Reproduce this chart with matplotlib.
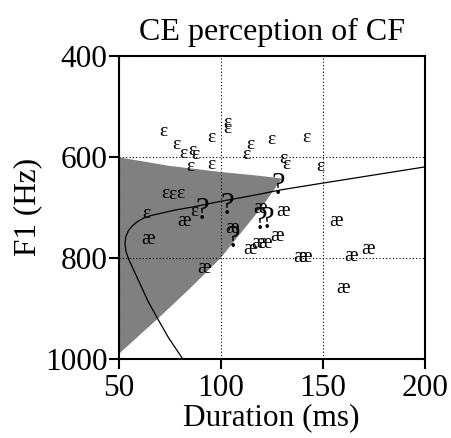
#!/usr/bin/env python3
# coding: UTF-8

import matplotlib
matplotlib.use("Agg")
import matplotlib.pyplot as plt

# Data
# vowel tokens: (duration ms, F1 Hz)
eps_dur = [72, 78.5, 81.8, 87.8, 86, 85, 95.6, 95.6, 103.5, 103.5, 114.4, 112.8,
           124.7, 142.1, 130.7, 132.3, 148.6, 72.8, 76.1, 80.2, 63.5, 87]
eps_f1 = [550, 576, 593, 596, 588, 619, 562, 615, 532, 545, 576, 596,
          565, 562, 603, 616, 619, 672, 675, 672, 713, 708]

ae_dur = [64.3, 82.3, 92.1, 105.4, 119.3, 130.7, 114.4, 118.5, 121.7, 127.4,
          138.9, 141.3, 156.5, 164.1, 172.3, 160]
ae_f1 = [764, 728, 820, 741, 702, 708, 784, 772, 772, 758,
         800, 800, 727, 797, 784, 860]

q_dur = [128.3, 90.8, 103, 106.3, 119.3, 122.6]
q_f1 = [659, 708, 698, 764, 728, 725]

# shaded region boundary
shade_dur = [50, 75, 100, 120, 130, 120, 110, 100, 85, 70, 50]
shade_f1 = [601, 618, 630, 638, 643, 700, 750, 800, 860, 917, 990]

# boundary curve
curve_dur = [81.5, 74.5, 68.7, 64.2, 60.5, 57.5, 55.0, 53.6, 53.1, 53.5, 54.8, 56.8,
             59.3, 62.3, 66, 70.3, 78, 86.6, 100, 115, 130, 150, 175, 200]
curve_f1 = [1000, 958, 917, 884, 851, 825, 803, 787, 772, 758, 746, 736,
            728, 721, 716, 712, 705, 699, 688, 677, 665, 652, 636, 620]

serif = ["Liberation Serif", "DejaVu Serif"]
plt.rcParams["font.family"] = serif

fig = plt.figure(figsize=(4.51, 4.38), dpi=100)
ax = fig.add_axes([0.263, 0.180, 0.679, 0.693])

ax.fill(shade_dur, shade_f1, color="#808080", lw=0, zorder=1)
ax.plot(curve_dur, curve_f1, color="black", lw=0.9, zorder=3)

for x, y in zip(eps_dur, eps_f1):
    ax.text(x, y, "\u025b", ha="center", va="center", fontsize=14, zorder=4)
for x, y in zip(ae_dur, ae_f1):
    ax.text(x, y, "\u00e6", ha="center", va="center", fontsize=14.5, zorder=4)
for x, y in zip(q_dur, q_f1):
    ax.text(x, y, "?", ha="center", va="center", fontsize=22, zorder=4)

ax.set_xlim(50, 200)
ax.set_ylim(1000, 400)
ax.set_xticks([50, 100, 150, 200])
ax.set_yticks([400, 600, 800, 1000])
ax.grid(True, color="black", ls=(0, (1, 2)), lw=0.8, zorder=2)
ax.set_axisbelow(False)

for s in ax.spines.values():
    s.set_linewidth(1.5)
    s.set_zorder(5)
ax.tick_params(direction="out", length=7, width=1.5, labelsize=22.5, pad=1)
ax.tick_params(axis="x", pad=4)

ax.set_title("CE perception of CF", fontsize=23, pad=11)
ax.set_xlabel("Duration (ms)", fontsize=22.5, labelpad=0)
ax.set_ylabel("F1 (Hz)", fontsize=22.5, labelpad=2)

plt.savefig("out.png", format="png", dpi=100)
